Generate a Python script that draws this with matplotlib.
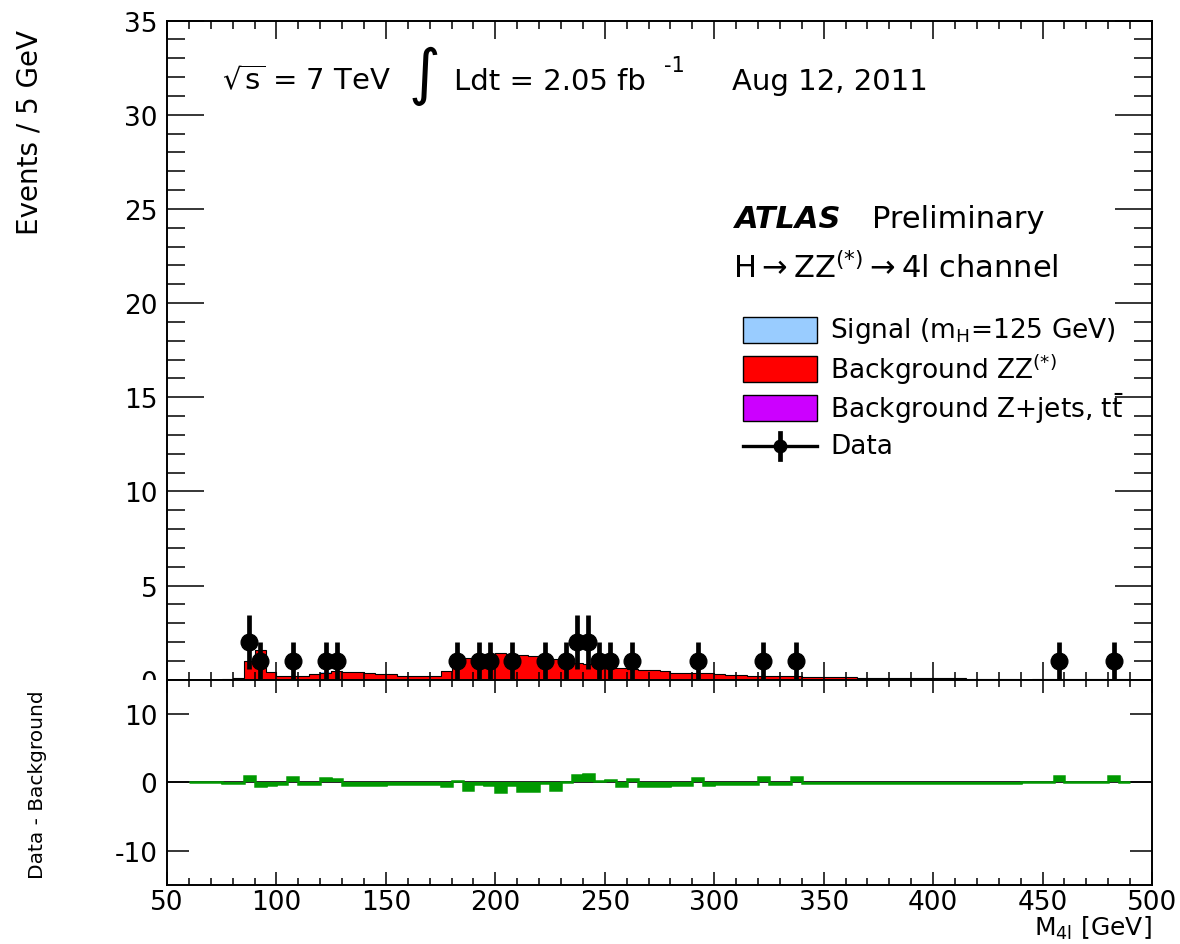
import numpy as np
import matplotlib

matplotlib.use("Agg")
import matplotlib.pyplot as plt  # noqa: E402
from matplotlib.lines import Line2D  # noqa: E402
from matplotlib.patches import Rectangle  # noqa: E402
from matplotlib.ticker import MultipleLocator  # noqa: E402

plt.rcParams.update({
    "font.family": "DejaVu Sans",
    "mathtext.fontset": "dejavusans",
    "axes.unicode_minus": False,
})

# 5 GeV bins, 50-500 GeV
edges = np.arange(50, 505, 5)

# expected events per bin, one row per 50 GeV
bg_zz = [
    0.00, 0.00, 0.00, 0.00, 0.00, 0.03, 0.10, 1.00, 1.60, 0.40,
    0.22, 0.20, 0.20, 0.28, 0.38, 0.40, 0.38, 0.36, 0.36, 0.32,
    0.30, 0.22, 0.20, 0.20, 0.22, 0.48, 0.80, 1.15, 1.24, 1.35,
    1.40, 1.38, 1.33, 1.27, 1.15, 1.10, 1.00, 0.90, 0.82, 0.74,
    0.64, 0.60, 0.58, 0.52, 0.50, 0.48, 0.38, 0.36, 0.36, 0.34,
    0.28, 0.27, 0.26, 0.22, 0.19, 0.18, 0.18, 0.17, 0.15, 0.15,
    0.14, 0.14, 0.13, 0.09, 0.09, 0.08, 0.08, 0.08, 0.08, 0.08,
    0.08, 0.08, 0.08, 0.04, 0.04, 0.03, 0.03, 0.03, 0.00, 0.02,
    0.02, 0.02, 0.02, 0.02, 0.02, 0.02, 0.02, 0.02, 0.00, 0.00,
]
bg_zjets = [0.0] * 90
bg_zjets[15:18] = [0.05, 0.05, 0.05]
signal = [0.0] * 90
signal[14:16] = [0.02, 0.03]

# observed candidates (bin centre, count)
data_mass = [87.5, 92.5, 107.5, 122.5, 127.5, 182.5, 192.5, 197.5, 207.5,
             222.5, 232.5, 237.5, 242.5, 247.5, 252.5, 262.5, 292.5, 322.5,
             337.5, 457.5, 482.5]
data_counts = [2, 1, 1, 1, 1, 1, 1, 1, 1, 1, 1, 2, 2, 1, 1, 1, 1, 1, 1, 1, 1]

C_SIG = "#99ccff"
C_ZZ = "#ff0000"
C_ZJ = "#cc00ff"
C_DIFF = "#009900"

W, H = 1180, 945


def fx(px):
    return px / W


def fy(py):
    return 1 - py / H


fig = plt.figure(figsize=(W / 100, H / 100), dpi=100)
left, right = fx(167), fx(1152)
top, split, bottom = fy(21.5), fy(680.7), fy(886)
ax1 = fig.add_axes([left, split, right - left, top - split])
ax2 = fig.add_axes([left, bottom, right - left, split - bottom])
ax2.set_zorder(2)

zz = np.array(bg_zz)
zj = np.array(bg_zjets)
sig = np.array(signal)

# stacked expectation
ax1.stairs(zj + zz + sig, edges, baseline=zj + zz, fill=True, color=C_SIG)
ax1.stairs(zj + zz, edges, baseline=zj, fill=True, color=C_ZZ)
ax1.stairs(zj, edges, fill=True, color=C_ZJ)
ax1.stairs(zj + zz, edges, color="black", lw=0.8)

counts = np.array(data_counts, dtype=float)
ax1.errorbar(data_mass, counts, yerr=np.sqrt(counts), fmt="o", color="black",
             ms=12, elinewidth=3.4, capsize=0, zorder=5, clip_on=False)

ax1.set_xlim(50, 500)
ax1.set_ylim(0, 35)
ax1.xaxis.set_major_locator(MultipleLocator(50))
ax1.xaxis.set_minor_locator(MultipleLocator(10))
ax1.yaxis.set_major_locator(MultipleLocator(5))
ax1.yaxis.set_minor_locator(MultipleLocator(1))
ax1.tick_params(which="both", direction="in", top=True, right=True,
                labelbottom=False, width=1.1, labelsize=19)
ax1.tick_params(axis="y", which="major", length=26.6, pad=7)
ax1.tick_params(axis="y", which="minor", length=13)
ax1.tick_params(axis="x", which="major", length=13)
ax1.tick_params(axis="x", which="minor", length=6)

# data minus background
data_hist = np.histogram(data_mass, bins=edges, weights=counts)[0]
diff = data_hist - (zz + zj)
ax2.axhline(0, color="black", lw=1.2, zorder=1)
ax2.stairs(diff[2:88], edges[2:89], baseline=0, fill=True, color=C_DIFF,
           zorder=2)
ax2.stairs(diff[2:88], edges[2:89], baseline=0, color=C_DIFF, lw=1.8,
           zorder=3)
ax2.set_xlim(50, 500)
ax2.set_ylim(-15, 15)
ax2.xaxis.set_major_locator(MultipleLocator(50))
ax2.xaxis.set_minor_locator(MultipleLocator(10))
ax2.yaxis.set_major_locator(MultipleLocator(10))
ax2.tick_params(which="both", direction="in", top=True, right=True,
                width=1.1, labelsize=19)
ax2.tick_params(axis="y", which="major", length=16, pad=7)
ax2.tick_params(axis="x", which="major", length=9.5, pad=3)
ax2.tick_params(axis="x", which="minor", length=5)

for ax in (ax1, ax2):
    for sp in ax.spines.values():
        sp.set_linewidth(1.4)

# lower pad hides the bottom half of the upper "0" label
fig.add_artist(Rectangle((0, 0), left - 0.002, split, transform=fig.transFigure,
                         facecolor="white", edgecolor="none", zorder=1))

fig.text(fx(30), fy(30), "Events / 5 GeV", rotation=90, ha="center",
         va="top", fontsize=20)
fig.text(fx(38), fy(785), "Data - Background", rotation=90, ha="center",
         va="center", fontsize=14.5, zorder=3)
fig.text(fx(1152), fy(936), r"M$_{\mathrm{4l}}$ [GeV]", ha="right",
         va="baseline", fontsize=18, zorder=3)

# run info
fig.text(fx(222), fy(90), r"$\sqrt{\mathrm{s}}$ = 7 TeV", ha="left",
         va="baseline", fontsize=21)
fig.text(fx(424), fy(76), "\u222b", ha="center", va="center", fontsize=44)
fig.text(fx(454), fy(90), "Ldt = 2.05 fb", ha="left", va="baseline",
         fontsize=21)
fig.text(fx(664), fy(72), "-1", ha="left", va="baseline", fontsize=15)
fig.text(fx(732), fy(90), "Aug 12, 2011", ha="left", va="baseline",
         fontsize=21)

fig.text(fx(735), fy(228), "ATLAS", ha="left", va="baseline", fontsize=22,
         fontweight="bold", fontstyle="italic")
fig.text(fx(872), fy(228), "Preliminary", ha="left", va="baseline",
         fontsize=22)
fig.text(fx(733), fy(278),
         r"H$\rightarrow$ZZ$^{(*)}$$\rightarrow$4l channel", ha="left",
         va="baseline", fontsize=22)

# legend
rows = [
    (331, C_SIG, r"Signal (m$_{\mathrm{H}}$=125 GeV)"),
    (370, C_ZZ, r"Background ZZ$^{(*)}$"),
    (409, C_ZJ, r"Background Z+jets, t$\bar{\mathrm{t}}$"),
]
for yc, col, label in rows:
    fig.add_artist(Rectangle((fx(743), fy(yc + 13)), fx(817) - fx(743),
                             fy(yc - 13) - fy(yc + 13),
                             transform=fig.transFigure, facecolor=col,
                             edgecolor="black", lw=1.0))
    fig.text(fx(830), fy(yc), label, ha="left", va="center", fontsize=19)

fig.add_artist(Line2D([fx(743), fx(817)], [fy(447), fy(447)],
                      transform=fig.transFigure, color="black", lw=2.4))
fig.add_artist(Line2D([fx(780), fx(780)], [fy(434), fy(460)],
                      transform=fig.transFigure, color="black", lw=3.4))
fig.add_artist(Line2D([fx(780)], [fy(447)], transform=fig.transFigure,
                      color="black", marker="o", ms=9))
fig.text(fx(830), fy(447), "Data", ha="left", va="center", fontsize=19)

fig.savefig("out.png", dpi=100)
